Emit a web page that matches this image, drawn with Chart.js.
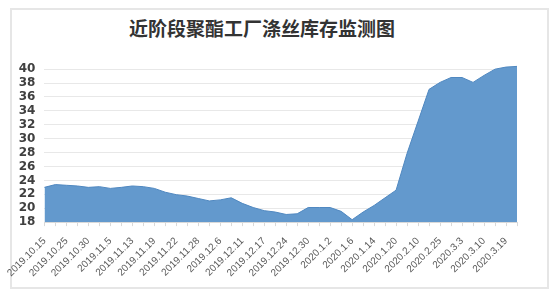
<!DOCTYPE html>
<html>
<head>
<meta charset="utf-8">
<script src="https://cdn.jsdelivr.net/npm/chart.js@4.4.1/dist/chart.umd.min.js"></script>
<style>
    body { margin: 0; background: #fff; }
    #wrap { position: relative; width: 554px; height: 298px; }
    #frame { position: absolute; left: 10px; top: 8px; width: 535px; height: 277px; border: 2px solid #e6e6e6; }
    #title { position: absolute; left: 0; width: 524px; top: 15px; text-align: center;
        font: bold 19px 'Noto Sans CJK SC'; color: #333; line-height: 26px; }
    #chart { position: absolute; left: 0; top: 0; }
</style>
</head>
<body>
<div id="wrap">
    <div id="frame"></div>
    <div id="title">近阶段聚酯工厂涤丝库存监测图</div>
    <canvas id="chart" width="554" height="298"></canvas>
</div>
<script>
// labelled dates (every other category carries a label)
const tickLabels = ['2019.10.15', '2019.10.25', '2019.10.30', '2019.11.5', '2019.11.13', '2019.11.19',
    '2019.11.22', '2019.11.28', '2019.12.6', '2019.12.11', '2019.12.17', '2019.12.24', '2019.12.30',
    '2020.1.2', '2020.1.6', '2020.1.14', '2020.1.20', '2020.2.10', '2020.2.25', '2020.3.3', '2020.3.10', '2020.3.19']

// inventory (days)
const stock = [23.0, 23.4, 23.3, 23.2, 23.0, 23.1, 22.85, 23.0, 23.2, 23.1,
    22.85, 22.3, 21.95, 21.75, 21.4, 21.05, 21.2, 21.5, 20.7, 20.1,
    19.65, 19.45, 19.1, 19.2, 20.1, 20.1, 20.1, 19.55, 18.35, 19.45,
    20.4, 21.5, 22.6, 27.9, 32.5, 37.1, 38.1, 38.8, 38.8, 38.1,
    39.1, 40.0, 40.3, 40.4]

const labels = stock.map((v, i) => i % 2 ? '' : (tickLabels[i / 2] || ''))

new Chart(document.getElementById('chart'), {
    type: 'line',
    data: {
        labels,
        datasets: [{
            data: stock,
            fill: 'start',
            backgroundColor: '#6399cd',
            borderColor: '#5088c0',
            borderWidth: 1,
            pointRadius: 0,
            tension: 0
        }]
    },
    options: {
        responsive: false,
        animation: false,
        layout: { padding: { left: 5, right: 37, top: 65, bottom: 10 } },
        scales: {
            x: {
                offset: false,
                ticks: {
                    autoSkip: false, minRotation: 45, maxRotation: 45, padding: 9,
                    color: '#595959', font: { family: 'Liberation Sans', size: 10 }
                },
                grid: { drawOnChartArea: false, drawTicks: true, tickLength: 4, color: '#d9d9d9' },
                border: { color: '#d9d9d9' }
            },
            y: {
                min: 18,
                max: 40.6,
                ticks: {
                    autoSkip: false, stepSize: 2, includeBounds: false, padding: 9,
                    color: '#404040', font: { family: 'DejaVu Sans', size: 12, weight: 'bold' }
                },
                grid: { color: '#e8e8e8', drawTicks: false },
                border: { display: false }
            }
        },
        plugins: {
            legend: { display: false },
            tooltip: { enabled: false }
        }
    }
})
</script>
</body>
</html>
